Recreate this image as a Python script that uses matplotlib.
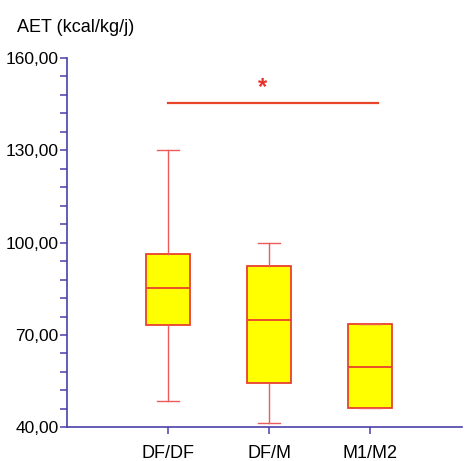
import matplotlib
matplotlib.use("Agg")
import matplotlib.pyplot as plt
import numpy as np
from matplotlib.ticker import FixedLocator, FuncFormatter

plt.rcParams['font.family'] = ['Liberation Sans', 'DejaVu Sans']

categories = ["DF/DF", "DF/M", "M1/M2"]
whislo = [48.7, 41.4, 46.2]
q1 = [73.2, 54.5, 46.2]
med = [85.2, 74.8, 59.6]
q3 = [96.3, 92.5, 73.6]
whishi = [130.0, 100.0, 73.6]
sig_y = 145.3
major_ticks = [40, 70, 100, 130, 160]

fig = plt.figure(figsize=(4.65, 4.61), dpi=100)
ax = fig.add_axes([67/465, (461-427.3)/461, (462-67)/465, (427.3-58)/461])

stats = []
for i in range(3):
    stats.append(dict(label=categories[i], whislo=whislo[i], q1=q1[i], med=med[i],
                      q3=q3[i], whishi=whishi[i], fliers=[]))

box_edge = "#e8402e"
whisk = "#ec5a5a"
ax.bxp(stats, positions=[1, 2, 3], widths=0.43, patch_artist=True, showfliers=False,
       boxprops=dict(facecolor="#ffff00", edgecolor=box_edge, linewidth=1.3),
       medianprops=dict(color=box_edge, linewidth=1.3),
       whiskerprops=dict(color=whisk, linewidth=1.0),
       capprops=dict(color=whisk, linewidth=1.0),
       capwidths=0.21)

ax.plot([1.0, 3.08], [sig_y, sig_y], color="#e8442a", linewidth=1.6)
ax.text(1.94, sig_y + 1.5, "*", color="#e8302a", fontsize=17, fontweight="bold",
        ha="center", va="bottom")

ax.set_xlim(0, 3.91)
ax.set_ylim(40, 160)
axis_color = "#4a3fa8"
for s in ["top", "right"]:
    ax.spines[s].set_visible(False)
for s in ["left", "bottom"]:
    ax.spines[s].set_color(axis_color)
    ax.spines[s].set_linewidth(1.2)

ax.yaxis.set_major_locator(FixedLocator(major_ticks))
minor = [v for v in np.arange(40, 161, 6) if v not in major_ticks]
ax.yaxis.set_minor_locator(FixedLocator(minor))
ax.yaxis.set_major_formatter(FuncFormatter(lambda v, p: f"{v:.2f}".replace(".", ",")))
ax.tick_params(axis="y", which="both", direction="out", length=5, width=1.1,
               color=axis_color, labelsize=12.5, pad=1)
ax.tick_params(axis="x", direction="out", length=5, width=1.1, color=axis_color,
               labelsize=13, pad=8)
ax.set_xticks([1, 2, 3])
ax.set_xticklabels(categories)

fig.text(17/465, 1 - 27/461, "AET (kcal/kg/j)", fontsize=13, ha="left", va="center")

fig.savefig("out.png", dpi=100)
